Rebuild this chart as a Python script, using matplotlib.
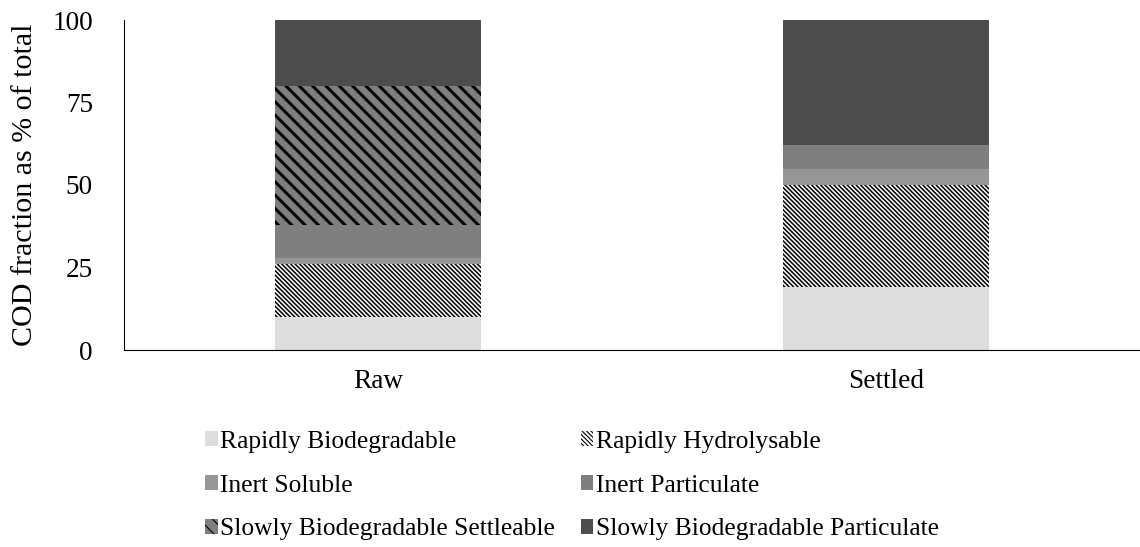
import matplotlib
matplotlib.use('Agg')
import matplotlib.pyplot as plt
import numpy as np

# COD fractions (% of total) for each sample
samples = ['Raw', 'Settled']
fractions = ['Rapidly Biodegradable', 'Rapidly Hydrolysable', 'Inert Soluble',
             'Inert Particulate', 'Slowly Biodegradable Settleable',
             'Slowly Biodegradable Particulate']
rapid_biodeg = [10, 19]
rapid_hydro = [16, 31]
inert_sol = [2, 5]
inert_part = [10, 7]
slow_settle = [42, 0]
slow_part = [20, 38]

series = [rapid_biodeg, rapid_hydro, inert_sol, inert_part, slow_settle, slow_part]
faces = ['#dddddd', 'white', '#969696', '#7f7f7f', '#7f7f7f', '#4d4d4d']
hatches = [None, '\\' * 6, None, None, '\\' * 2, None]
hatch_lw = [1.0, 1.4, 1.0, 1.0, 2.7, 1.0]

plt.rcParams['font.family'] = ['Liberation Serif', 'DejaVu Serif']

fig = plt.figure(figsize=(14.25, 6.8375), dpi=80)
ax = fig.add_axes([124/1140, 1 - 350/547, 1 - 124/1140, (350 - 20)/547])

x = np.arange(len(samples))
bottom = np.zeros(len(samples))
for vals, name, fc, h, hlw in zip(series, fractions, faces, hatches, hatch_lw):
    with plt.rc_context({'hatch.linewidth': hlw}):
        bars = ax.bar(x, vals, width=0.404, bottom=bottom, color=fc,
                      edgecolor='black', linewidth=0, hatch=h, label=name)
    for b in bars:
        if hasattr(b, 'set_hatch_linewidth'):
            b.set_hatch_linewidth(hlw)
    bottom += np.array(vals)

ax.set_xlim(-0.5, 1.5)
ax.set_ylim(0, 100)
ax.set_yticks([0, 25, 50, 75, 100])
ax.set_xticks(x)
ax.set_xticklabels(samples)
ax.tick_params(axis='y', length=0, pad=28, labelsize=24.5)
ax.tick_params(axis='x', length=0, pad=17, labelsize=24.5)
for s in ['top', 'right']:
    ax.spines[s].set_visible(False)
ax.spines['left'].set_linewidth(1.0)
ax.spines['bottom'].set_linewidth(1.0)

ax.set_ylabel('COD fraction as % of total', fontsize=27)
ax.yaxis.set_label_coords(-0.085, 0.5)

handles, labels = ax.get_legend_handles_labels()
order = [0, 2, 4, 1, 3, 5]
fig.legend([handles[i] for i in order], [labels[i] for i in order],
           loc='center', bbox_to_anchor=(572/1140, 1 - 485.5/547),
           ncol=2, frameon=False, fontsize=23,
           handlelength=0.5, handleheight=0.5, handletextpad=0.1,
           columnspacing=1.0, labelspacing=0.86)

fig.savefig('out.png', dpi=80)
